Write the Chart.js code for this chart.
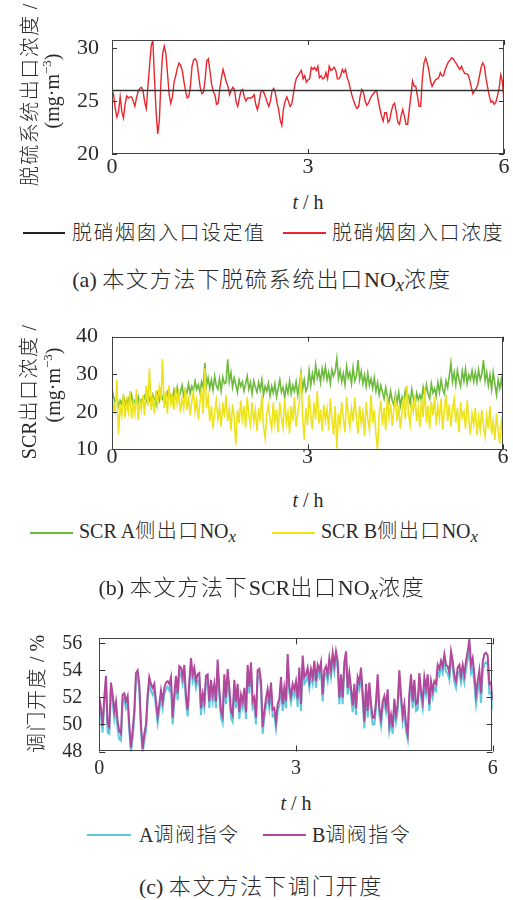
<!DOCTYPE html>
<html>
<head>
<meta charset="utf-8">
<script src="https://cdn.jsdelivr.net/npm/chart.js@4.4.1/dist/chart.umd.min.js"></script>
<style>
  body { margin: 0; background: #fff; }
  #page { position: relative; width: 513px; height: 900px; overflow: hidden;
          font-family: "Liberation Serif", "Noto Sans CJK SC", serif; color: #2a2a2a; }
  canvas { position: absolute; left: 0; }
  .t { position: absolute; white-space: nowrap; transform: translate(-50%, -50%); font-size: 20px; line-height: 1; }
  .rot { transform: translate(-50%, -50%) rotate(-90deg); }
  .lt { position: absolute; white-space: nowrap; transform: translateY(-50%); font-size: 20px; line-height: 1; }
  .sw { position: absolute; height: 1.5px; margin-top: -0.75px; }
  .cap { font-size: 22px; }
  .c { letter-spacing: 1.5px; font-weight: 300; }
  .cap .c { letter-spacing: 1.8px; }
  sup { font-size: 65%; vertical-align: 0.55em; }
  sub { font-size: 85%; vertical-align: -0.25em; }
</style>
</head>
<body>
<div id="page">
  <canvas id="chartA" width="513" height="185" style="top:0"></canvas>
  <canvas id="chartB" width="513" height="180" style="top:300px"></canvas>
  <canvas id="chartC" width="513" height="185" style="top:600px"></canvas>

  <!-- (a) -->
  <div class="t rot" style="left:30px;top:95px"><span class="c">脱硫系统出口浓度</span> /</div>
  <div class="t rot" style="left:51px;top:91px">(mg·m<sup>−3</sup>)</div>
  <div class="t" style="left:308px;top:202px"><i>t</i> / h</div>
  <span class="sw" style="left:23px;top:233px;width:42px;background:#222"></span>
  <span class="lt c" style="left:72px;top:233px">脱硝烟囱入口设定值</span>
  <span class="sw" style="left:283px;top:233px;width:43px;background:#e8262d"></span>
  <span class="lt c" style="left:332px;top:233px">脱硝烟囱入口浓度</span>
  <div class="t cap" style="left:262px;top:282px">(a) <span class="c">本文方法下脱硫系统出口</span>NO<sub><i>x</i></sub><span class="c">浓度</span></div>

  <!-- (b) -->
  <div class="t rot" style="left:29px;top:392px">SCR<span class="c">出口浓度</span> /</div>
  <div class="t rot" style="left:52px;top:385px">(mg·m<sup>−3</sup>)</div>
  <div class="t" style="left:308px;top:500px"><i>t</i> / h</div>
  <span class="sw" style="left:30px;top:533px;width:43px;background:#6cbb3c"></span>
  <span class="lt" style="left:79px;top:533px">SCR A<span class="c">侧出口</span>NO<sub><i>x</i></sub></span>
  <span class="sw" style="left:272px;top:533px;width:43px;background:#ede31a"></span>
  <span class="lt" style="left:321px;top:533px">SCR B<span class="c">侧出口</span>NO<sub><i>x</i></sub></span>
  <div class="t cap" style="left:262px;top:590px">(b) <span class="c">本文方法下</span>SCR<span class="c">出口</span>NO<sub><i>x</i></sub><span class="c">浓度</span></div>

  <!-- (c) -->
  <div class="t rot" style="left:37px;top:694px"><span class="c">调门开度</span> / %</div>
  <div class="t" style="left:296px;top:803px"><i>t</i> / h</div>
  <span class="sw" style="left:87px;top:835px;width:44px;background:#5fc9dc"></span>
  <span class="lt" style="left:139px;top:835px">A<span class="c">调阀指令</span></span>
  <span class="sw" style="left:263px;top:835px;width:43px;background:#b2489b"></span>
  <span class="lt" style="left:312px;top:835px">B<span class="c">调阀指令</span></span>
  <div class="t cap" style="left:261px;top:887px">(c) <span class="c">本文方法下调门开度</span></div>
</div>

<script>
// ---- data (time axis 0..6 h, samples evenly spaced) ----
const xTicks = [0, 3, 6];

// (a) desulfurization outlet NOx, mg/m3
const setpointA = 26;
const outletA = [
  26.1, 25.6, 24.3, 23.5, 24.0, 25.4, 24.0, 23.4, 24.7, 25.5,
  25.3, 25.4, 25.4, 25.0, 24.5, 25.3, 25.9, 26.2, 26.3, 26.0,
  24.9, 24.3, 26.4, 28.3, 30.2, 30.8, 27.2, 24.0, 21.9, 23.2,
  27.0, 29.5, 30.2, 29.5, 27.6, 25.6, 24.8, 25.4, 26.8, 27.4,
  28.1, 28.6, 28.4, 27.9, 26.9, 26.0, 25.3, 25.4, 26.4, 28.3,
  28.9, 29.0, 28.7, 27.5, 26.3, 25.7, 25.8, 27.0, 28.8, 29.0,
  27.8, 26.6, 25.9, 25.6, 24.7, 24.8, 26.2, 27.2, 28.0, 27.4,
  26.8, 26.4, 25.6, 26.0, 26.3, 26.1, 24.9, 24.5, 25.3, 26.0,
  26.1, 25.4, 25.0, 25.3, 25.3, 25.3, 25.4, 25.6, 24.7, 24.2,
  24.8, 25.8, 26.0, 25.8, 25.4, 24.9, 24.5, 25.0, 26.0, 26.2,
  25.8, 24.9, 24.2, 23.2, 22.7, 24.3, 25.0, 25.4, 25.0, 24.5,
  24.7, 25.6, 26.6, 27.2, 27.4, 27.7, 27.9, 27.1, 27.4, 26.8,
  27.0,
  27.1, 28.2, 28.0, 28.2, 27.9, 28.3, 27.2, 27.4, 27.1, 27.2,
  27.7, 27.1, 28.3, 27.9, 28.0, 28.2, 27.9, 27.1, 27.1, 27.4,
  28.0, 27.7, 28.0, 27.2, 26.8, 26.1, 25.5, 25.0, 24.6, 24.3,
  24.5, 25.5, 26.1, 25.8, 25.0, 24.6, 24.8, 25.2, 25.5, 25.7,
  25.9, 26.0, 25.1, 24.3, 23.6, 23.1, 23.9, 23.9, 23.0, 23.2,
  24.0, 24.6, 24.8, 24.0, 23.0, 22.8, 23.6, 24.2, 23.6, 22.8,
  22.8, 24.2, 25.5, 26.9, 26.4, 26.4, 25.5, 24.5, 24.5, 27.1,
  28.6, 29.1, 28.6, 27.9, 26.9, 26.4, 26.7, 27.0, 27.1, 27.2,
  27.7, 27.4, 27.4, 28.0, 28.4, 28.7, 28.9, 29.1, 29.0, 28.7,
  28.5, 28.2, 28.0, 28.3, 27.9, 27.6, 27.6, 27.5, 27.0, 26.3,
  25.7, 26.0, 26.2, 26.6, 27.4, 28.2, 28.6, 28.3, 27.1, 26.3,
  25.5, 24.9, 25.0, 24.7, 24.9, 25.5, 26.2, 27.5, 26.9, 25.0
];
const yTicksA = [20, 25, 30];
const yRangeA = [20, 30.78];

// (b) SCR outlet NOx, mg/m3
const scrA = [
  26.0, 24.0, 22.5, 23.8, 21.6, 23.0, 22.0, 24.2, 22.8, 21.5,
  23.5, 22.2, 24.5, 21.8, 23.0, 22.4, 24.0, 21.5, 23.2, 22.6,
  24.2, 22.8, 25.0, 23.2, 22.0, 24.6, 23.5, 21.8, 24.8, 23.0,
  25.5, 23.4, 24.2, 22.6, 25.2, 23.8, 24.5, 22.8, 25.8, 24.0,
  26.5, 23.8, 25.2, 27.0, 24.2, 26.0, 25.0, 27.5, 24.8, 26.8,
  25.5, 28.2, 26.0, 27.2, 25.2, 28.0, 26.5, 33.0, 27.0, 29.0,
  26.2, 28.5, 25.8, 29.5, 27.0, 26.0, 28.8, 25.5, 29.2, 27.5,
  27.8, 34.0, 28.0, 30.5, 26.5, 29.0, 27.2, 25.2, 28.5, 26.8,
  28.0, 25.5, 27.5, 29.5, 26.0, 27.8, 24.8, 28.2, 26.5, 25.2,
  27.8, 25.8, 28.5, 24.5, 26.8, 25.5, 27.6, 24.2, 26.8, 25.0,
  27.5, 24.0, 26.2, 28.5, 25.2, 26.5, 23.8, 27.0, 25.0, 28.2,
  24.8, 27.0, 25.5, 28.0, 24.5, 27.2, 30.5, 26.0, 28.5, 25.5,
  26.5, 31.0, 27.0, 30.2, 28.0, 32.5, 29.0, 30.8, 27.8, 31.5,
  29.0, 32.0, 28.5, 30.5, 27.5, 31.2, 29.5, 30.8, 34.2, 28.8,
  31.0, 28.0, 30.2, 27.2, 32.0, 29.0, 30.5, 27.5, 31.8, 28.2,
  29.5, 33.8, 28.5, 30.8, 27.5, 29.8, 26.8, 30.2, 27.0, 28.8,
  26.2, 29.0, 25.5, 27.8, 24.5, 27.0, 25.2, 23.5, 26.5, 24.2,
  22.5, 25.5, 23.0, 21.8, 24.8, 22.5, 25.2, 21.6, 24.0, 22.8,
  25.5, 23.0, 24.2, 22.2, 26.0, 23.5, 21.8, 25.0, 23.2, 24.5,
  22.8, 26.5, 24.0, 27.2, 24.8, 23.5, 27.5, 25.0, 26.2, 24.2,
  27.8, 25.2, 28.5, 26.0, 24.8, 28.2, 26.5, 29.5, 33.0, 28.0,
  30.5, 27.2, 31.0, 28.5, 26.8, 30.8, 28.2, 31.5, 27.5, 29.8,
  28.5, 31.0, 28.0, 30.5, 27.8, 31.2, 28.5, 30.0, 33.8, 28.2,
  30.5, 27.0, 29.8, 26.0, 30.5, 27.5, 24.5, 28.5, 26.2, 28.8, 25.0
];
const scrB = [
  17.5, 22.0, 20.0, 28.5, 14.0, 21.5, 19.0, 24.5, 18.5, 22.8,
  20.0, 25.5, 18.2, 22.5, 19.5, 26.0, 17.8, 23.0, 20.5, 24.5,
  19.0, 27.0, 21.5, 31.5, 20.5, 23.5, 19.5, 25.8, 22.0, 26.5,
  23.0, 34.0, 21.0, 25.5, 19.5, 27.0, 22.2, 24.0, 20.5, 26.5,
  22.0, 25.0, 19.8, 23.5, 21.0, 26.5, 20.5, 24.2, 19.0, 22.8,
  25.5, 20.0, 23.0, 18.0, 22.5, 26.5, 19.5, 31.5, 21.0, 24.0,
  17.5, 21.5, 15.5, 20.0, 23.0, 18.0, 21.2, 16.0, 22.5, 18.5,
  24.5, 17.5, 20.8, 15.0, 22.0, 18.5, 11.2, 20.5, 17.0, 23.0,
  18.0, 21.5, 15.8, 24.0, 19.0, 16.5, 22.5, 17.2, 20.5, 14.8,
  21.0, 17.5, 24.5, 16.0, 13.0, 19.5, 21.8, 18.0, 15.5, 22.5,
  17.0, 20.5, 14.5, 22.5, 18.5, 15.8, 23.5, 17.0, 20.0, 14.2,
  21.5, 17.5, 24.0, 16.0, 19.5, 22.8, 30.5, 18.5, 12.5, 21.0,
  16.5, 24.5, 19.0, 15.2, 22.5, 18.0, 25.5, 16.8, 20.5, 14.8,
  22.0, 17.5, 20.8, 15.0, 23.5, 18.2, 13.8, 21.5, 10.2, 19.5,
  16.5, 22.5, 18.0, 14.5, 24.0, 19.2, 15.8, 21.0, 17.5, 23.8,
  18.2, 14.2, 21.5, 16.8, 20.0, 13.5, 22.5, 18.0, 15.2, 24.5,
  17.0, 20.5, 14.0, 10.0, 19.5, 23.0, 16.5, 21.0, 15.0, 24.0,
  18.5, 22.0, 16.2, 20.5, 23.5, 17.5, 21.8, 15.5, 19.8, 24.0,
  18.0, 27.0, 19.5, 16.5, 22.5, 20.0, 24.5, 17.5, 21.0, 15.8,
  23.5, 18.5, 26.5, 17.0, 21.5, 15.5, 22.8, 19.0, 24.0, 16.5,
  21.5, 18.0, 23.5, 15.2, 20.5, 24.5, 17.5, 22.0, 16.0, 20.8,
  23.5, 17.0, 21.0, 14.5, 22.5, 18.5, 20.0, 15.5, 23.0, 17.8,
  14.0, 19.5, 16.5, 21.0, 13.8, 18.5, 15.0, 20.5, 16.2, 13.5,
  19.0, 15.5, 21.5, 14.0, 17.5, 12.5, 19.5, 15.0, 11.5, 17.5, 14.5
];
const yTicksB = [10, 20, 30, 40];
const yRangeB = [10, 40];

// (c) valve opening, %
const valveA = [
  51.5, 50.6, 49.4, 51.6, 53.1, 49.4, 49.3, 52.6, 51.7, 50.4,
  51.2, 49.6, 48.9, 48.8, 51.7, 51.9, 51.2, 51.6, 49.5, 47.9,
  49.0, 50.5, 53.3, 53.6, 52.5, 49.5, 47.9, 48.8, 49.5, 51.7,
  53.0, 52.5, 52.2, 52.6, 51.2, 50.1, 51.0, 52.0, 51.2, 52.2,
  52.6, 52.8, 52.5, 53.0, 50.0, 51.7, 53.1, 51.8, 53.8, 53.7,
  53.0, 53.9, 51.6, 50.6, 52.7, 54.4, 53.2, 53.7, 52.7, 53.2,
  53.3, 50.7, 51.8, 51.2, 53.1, 53.2, 51.2, 52.8, 51.7, 52.5,
  51.2, 54.3, 52.1, 50.5, 50.1, 53.2, 51.5, 53.6, 52.2, 50.5,
  50.2, 52.8, 51.2, 52.5, 50.4, 51.7, 51.2, 52.2, 50.4, 53.9,
  52.3, 54.1, 51.2, 51.5, 50.0, 53.5, 53.6, 52.7, 49.3, 50.5,
  51.4, 52.1, 51.2, 52.6, 50.6, 50.7, 49.7, 51.0, 51.4, 53.0,
  51.0, 52.2, 51.2, 54.7, 52.3, 51.6, 52.5, 52.1,
  52.7, 51.3, 53.7, 51.0, 54.6, 53.0, 53.2, 53.7, 52.7, 53.6,
  53.0, 54.2, 52.7, 53.9, 53.5, 54.1, 51.7, 53.5, 53.8, 53.2,
  54.4, 53.5, 54.8, 53.9, 54.9, 54.2, 51.5, 53.2, 51.5, 54.1,
  54.9, 52.2, 53.3, 52.2, 50.9, 52.5, 50.7, 53.0, 52.6, 53.7,
  51.8, 49.7, 52.5, 50.5, 52.6, 51.0, 50.0, 50.0, 51.2, 53.2,
  50.7, 49.9, 51.2, 51.6, 50.9, 52.1, 49.5, 50.2, 49.3, 51.4,
  50.2, 51.0, 53.5, 51.7, 50.2, 51.0, 49.5, 48.9, 51.8, 53.2,
  51.2, 52.8, 51.0, 51.1, 53.3, 52.0, 51.2, 53.0, 52.2, 53.2,
  51.0, 52.7, 52.0, 52.7, 52.5, 53.9, 53.6, 54.2, 53.8, 54.7,
  53.9, 53.8, 53.3, 54.9, 54.2, 53.1, 52.7, 53.7, 53.9, 53.1,
  53.8, 53.1, 54.1, 54.8, 55.6, 53.8, 54.2, 53.0, 51.5, 52.5,
  53.3, 51.6, 53.9, 54.5, 54.6, 54.4, 52.3, 52.4, 51.1
];
const valveB = [
  52.0, 51.2, 49.9, 52.0, 53.6, 50.0, 49.8, 53.1, 52.2, 51.0,
  51.7, 50.2, 49.5, 49.3, 52.2, 52.3, 51.7, 52.1, 50.0, 48.3,
  49.5, 51.0, 53.8, 54.0, 53.0, 50.0, 48.2, 49.3, 50.0, 52.2,
  53.5, 53.0, 52.7, 53.0, 51.7, 50.6, 51.5, 52.5, 51.7, 52.7,
  53.1, 53.2, 53.0, 53.5, 50.5, 52.2, 53.6, 52.3, 54.3, 54.2,
  53.5, 54.4, 52.1, 51.1, 53.2, 54.9, 53.7, 54.2, 53.2, 53.7,
  53.8, 51.2, 52.3, 51.7, 53.6, 53.7, 51.7, 53.3, 52.2, 53.0,
  51.7, 54.8, 52.6, 51.0, 50.6, 53.7, 52.0, 54.1, 52.7, 51.0,
  50.7, 53.3, 51.7, 53.0, 50.9, 52.2, 51.7, 52.7, 50.9, 54.4,
  52.8, 54.6, 51.7, 52.0, 50.5, 54.0, 54.1, 53.2, 49.8, 51.0,
  51.9, 52.6, 51.7, 53.1, 51.1, 51.2, 50.2, 51.5, 51.9, 53.5,
  51.5, 52.7, 51.7, 55.2, 52.8, 52.1, 53.0, 52.6,
  53.2, 51.9, 54.2, 51.5, 55.1, 53.5, 53.7, 54.2, 53.2, 54.1,
  53.5, 54.7, 53.2, 54.4, 54.0, 54.6, 52.2, 54.0, 54.3, 53.7,
  54.9, 54.0, 55.3, 54.4, 55.4, 54.7, 52.0, 53.7, 52.0, 54.6,
  55.4, 52.7, 53.8, 52.7, 51.4, 53.0, 51.2, 53.5, 53.1, 54.2,
  52.3, 50.2, 53.0, 51.0, 53.1, 51.5, 50.5, 50.5, 51.7, 53.7,
  51.2, 50.4, 51.7, 52.1, 51.4, 52.6, 50.0, 50.7, 49.8, 51.9,
  50.7, 51.5, 54.0, 52.2, 50.7, 51.5, 50.0, 49.3, 52.3, 53.7,
  51.7, 53.3, 51.5, 51.6, 53.8, 52.5, 51.7, 53.5, 52.7, 53.7,
  51.5, 53.2, 52.5, 53.2, 53.0, 54.4, 54.1, 54.7, 54.3, 55.2,
  54.4, 54.3, 53.8, 55.4, 54.7, 53.6, 53.2, 54.2, 54.4, 53.6,
  54.4, 53.7, 54.7, 55.4, 56.3, 54.4, 54.9, 53.7, 52.2, 53.2,
  54.0, 52.3, 54.6, 55.2, 55.3, 55.1, 53.0, 53.1, 51.8
];
const yTicksC = [48, 50, 52, 54, 56];
const yRangeC = [48, 56.37];

// ---- helpers ----
const T_END = 6;
function toPoints(values) {
  const dt = T_END / (values.length - 1);
  return values.map((v, i) => ({ x: i * dt, y: v }));
}

// full box + inward ticks on all four sides
const boxTicks = {
  id: 'boxTicks',
  afterDatasetsDraw(chart, args, opts) {
    const { ctx, chartArea: a } = chart;
    const xs = chart.scales.x, ys = chart.scales.y;
    const L = opts.len || 5;
    ctx.save();
    ctx.strokeStyle = '#333';
    ctx.lineWidth = 1;
    ctx.beginPath();
    xs.ticks.forEach(t => {
      const px = Math.round(xs.getPixelForValue(t.value)) + 0.5;
      ctx.moveTo(px, a.bottom); ctx.lineTo(px, a.bottom - L);
      ctx.moveTo(px, a.top); ctx.lineTo(px, a.top + L);
    });
    ys.ticks.forEach(t => {
      const py = Math.round(ys.getPixelForValue(t.value)) + 0.5;
      ctx.moveTo(a.left, py); ctx.lineTo(a.left + L, py);
      ctx.moveTo(a.right, py); ctx.lineTo(a.right - L, py);
    });
    ctx.stroke();
    ctx.strokeStyle = '#444';
    ctx.strokeRect(Math.round(a.left) + 0.5, Math.round(a.top) + 0.5,
                   Math.round(a.right - a.left) - 1, Math.round(a.bottom - a.top) - 1);
    ctx.restore();
  }
};

function makeChart(id, o) {
  const tickFont = { family: 'Liberation Serif', size: o.fontSize };
  return new Chart(document.getElementById(id), {
    type: 'line',
    data: { datasets: o.datasets },
    options: {
      responsive: false,
      animation: false,
      devicePixelRatio: 1,
      layout: { padding: { top: o.padTop, right: o.padRight, left: 0, bottom: 0 } },
      plugins: { legend: { display: false }, tooltip: { enabled: false }, boxTicks: { len: o.tickLen } },
      elements: { point: { radius: 0 }, line: { tension: 0 } },
      scales: {
        x: {
          type: 'linear', min: 0, max: T_END,
          afterBuildTicks: s => { s.ticks = xTicks.map(v => ({ value: v })); },
          afterFit: s => { s.height = o.xH; },
          ticks: { font: tickFont, color: '#2a2a2a', padding: o.xPad, maxRotation: 0 },
          grid: { display: false }, border: { display: false }
        },
        y: {
          min: o.yRange[0], max: o.yRange[1],
          afterBuildTicks: s => { s.ticks = o.yTicks.map(v => ({ value: v })); },
          afterFit: s => { s.width = o.yW; },
          ticks: { font: tickFont, color: '#2a2a2a', padding: o.yPad },
          grid: { display: false }, border: { display: false }
        }
      }
    },
    plugins: [boxTicks]
  });
}

makeChart('chartA', {
  padTop: 40, padRight: 9, xH: 31, yW: 112, fontSize: 22, xPad: -8, yPad: 5, tickLen: 5,
  yRange: yRangeA, yTicks: yTicksA,
  datasets: [
    { data: [{ x: 0, y: setpointA }, { x: T_END, y: setpointA }], borderColor: '#333', borderWidth: 1.6 },
    { data: toPoints(outletA), borderColor: '#e8262d', borderWidth: 1.4 }
  ]
});

makeChart('chartB', {
  padTop: 36.7, padRight: 10, xH: 30.7, yW: 112, fontSize: 22, xPad: -13, yPad: 6, tickLen: 5,
  yRange: yRangeB, yTicks: yTicksB,
  datasets: [
    { data: toPoints(scrB), borderColor: '#ede31a', borderWidth: 1.6 },
    { data: toPoints(scrA), borderColor: '#6cbb3c', borderWidth: 1.6 }
  ]
});

makeChart('chartC', {
  padTop: 38.3, padRight: 20.3, xH: 33.5, yW: 99.3, fontSize: 20, xPad: -3, yPad: 9, tickLen: 6,
  yRange: yRangeC, yTicks: yTicksC,
  datasets: [
    { data: toPoints(valveB), borderColor: '#b2489b', borderWidth: 2 },
    { data: toPoints(valveA), borderColor: '#5fc9dc', borderWidth: 2 }
  ]
});
</script>
</body>
</html>
